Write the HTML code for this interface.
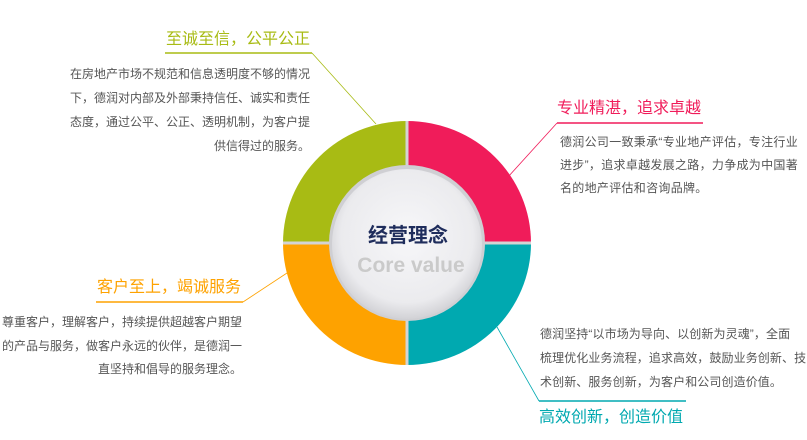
<!DOCTYPE html>
<html><head><meta charset="utf-8"><style>
body{margin:0;width:807px;height:440px;background:#fff;position:relative;overflow:hidden;font-family:"Liberation Sans","Noto Sans CJK SC",sans-serif}
.t{position:absolute;font-size:16px;white-space:nowrap;line-height:20px}
.b{position:absolute;font-size:12px;color:#555;line-height:24px;white-space:nowrap}
</style></head><body>
<svg width="807" height="440" style="position:absolute;left:0;top:0">
<defs>
<radialGradient id="g" cx="50%" cy="45%" r="55%"><stop offset="0" stop-color="#f7f7f9"/><stop offset="0.8" stop-color="#ebebee"/><stop offset="1" stop-color="#d2d2d6"/></radialGradient>
</defs>
<path d="M407 243 L407 121 A124 122 0 0 1 531 243 Z" fill="#f01c5a"/>
<path d="M407 243 L531 243 A124 122 0 0 1 407 365 Z" fill="#00a9b0"/>
<path d="M407 243 L407 365 A124 122 0 0 1 283 243 Z" fill="#fea200"/>
<path d="M407 243 L283 243 A124 122 0 0 1 407 121 Z" fill="#a8bb14"/>
<line x1="407" y1="121" x2="407" y2="365" stroke="#d4d4d4" stroke-width="3"/>
<line x1="283" y1="243" x2="531" y2="243" stroke="#d4d4d4" stroke-width="3"/>
<circle cx="407" cy="243" r="78" fill="#cfcfd3"/>
<circle cx="407" cy="244" r="75" fill="url(#g)"/>
<line x1="165" y1="53" x2="312" y2="53" stroke="#a8bb14" stroke-width="1.5"/>
<line x1="312" y1="53" x2="376" y2="124" stroke="#a8bb14" stroke-width="0.8"/>
<line x1="557" y1="123" x2="703" y2="123" stroke="#f01c5a" stroke-width="1.5"/>
<line x1="557" y1="123" x2="508" y2="177" stroke="#f01c5a" stroke-width="0.8"/>
<line x1="539" y1="401" x2="686" y2="401" stroke="#00a9b0" stroke-width="1.5"/>
<line x1="539" y1="401" x2="497" y2="327" stroke="#00a9b0" stroke-width="0.8"/>
<line x1="96" y1="302" x2="243" y2="302" stroke="#fea200" stroke-width="1.5"/>
<line x1="243" y1="302" x2="287" y2="273" stroke="#fea200" stroke-width="0.8"/>
<text x="408" y="242" text-anchor="middle" font-size="20" font-weight="bold" fill="#1f2d5c" font-family="Liberation Sans,Noto Sans CJK SC,sans-serif">经营理念</text>
<text x="411" y="272" text-anchor="middle" font-size="21" font-weight="bold" fill="#cacaca" font-family="Liberation Sans,sans-serif">Core value</text>
</svg>
<div class="t" style="left:166px;top:30px;color:#a8bb14">至诚至信，公平公正</div>
<div class="b" style="right:497px;top:62px;text-align:right">在房地产市场不规范和信息透明度不够的情况<br>下，德润对内部及外部秉持信任、诚实和责任<br>态度，通过公平、公正、透明机制，为客户提<br>供信得过的服务。</div>
<div class="t" style="left:557px;top:99px;color:#f01c5a">专业精湛，追求卓越</div>
<div class="b" style="left:560px;top:131px;line-height:23px;letter-spacing:0.3px">德润公司一致秉承“专业地产评估，专注行业<br>进步”，追求卓越发展之路，力争成为中国著<br>名的地产评估和咨询品牌。</div>
<div class="b" style="left:540px;top:322px;letter-spacing:0.1px">德润坚持“以市场为导向、以创新为灵魂”，全面<br>梳理优化业务流程，追求高效，鼓励业务创新、技<br>术创新、服务创新，为客户和公司创造价值。</div>
<div class="t" style="left:539px;top:408px;color:#00a9b0">高效创新，创造价值</div>
<div class="t" style="left:97px;top:278px;color:#fea200">客户至上，竭诚服务</div>
<div class="b" style="right:565px;top:311px;text-align:right;line-height:23.5px">尊重客户，理解客户，持续提供超越客户期望<br>的产品与服务，做客户永远的伙伴，是德润一<br>直坚持和倡导的服务理念。</div>
</body></html>
